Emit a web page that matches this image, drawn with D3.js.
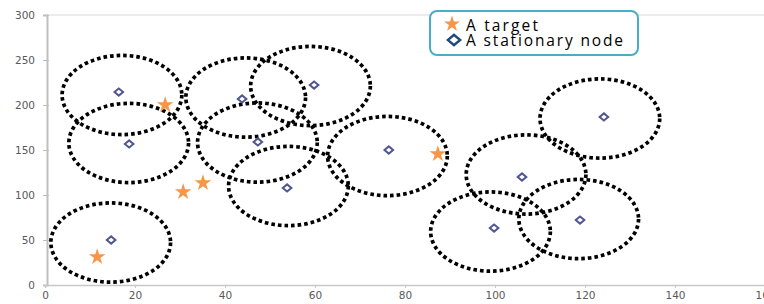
<!DOCTYPE html>
<html>
<head>
<meta charset="utf-8">
<script src="https://cdn.jsdelivr.net/npm/d3@7"></script>
<style>
  body { margin: 0; background: #fff; }
  svg { display: block; }
</style>
</head>
<body>
<div id="chart"></div>
<script>
// stationary nodes
var nodeX = [16.4, 18.7, 43.8, 47.3, 59.8, 53.8, 76.4, 106, 124.2, 99.8, 118.9, 14.7];
var nodeY = [214.4, 156.7, 206.7, 158.9, 222.2, 107.8, 150, 120, 186.7, 63.3, 72.2, 50];
// targets
var targetX = [26.7, 11.6, 30.7, 35.1, 87.3];
var targetY = [200, 31.1, 103.3, 113.3, 145.6];
// sensing range circles (centres)
var rangeX = [17.1, 18.6, 14.6, 44.6, 47.2, 59.0, 54.1, 76.1, 106.9, 123.3, 99, 118.6];
var rangeY = [211.1, 157.8, 47.2, 208.3, 158.3, 221.1, 110, 143.3, 122.8, 185, 59.4, 73.3];
var rangeRX = 13.3, rangeRY = 44;

var xTicks = [0, 20, 40, 60, 80, 100, 120, 140, 160];
var yTicks = [0, 50, 100, 150, 200, 250, 300];
var legendLabels = ["A target", "A stationary node"];

var W = 764, H = 304;

var svg = d3.select("#chart")
    .append("svg")
    .attr("width", W)
    .attr("height", H);

var x = d3.scaleLinear().domain([0, 160]).range([45, 765]);
var y = d3.scaleLinear().domain([0, 300]).range([285, 15]);

// top border line
svg.append("line")
    .attr("x1", x(0)).attr("x2", x(160))
    .attr("y1", y(300)).attr("y2", y(300))
    .style("stroke", "#d9d9d9")
    .style("stroke-width", 1);

// y axis
var yAxis = svg.append("g")
    .attr("transform", "translate(" + (x(0) + 2) + ",0)")
    .call(d3.axisLeft(y).tickValues(yTicks).tickSize(4).tickPadding(8));
yAxis.select(".domain").style("stroke", "#bfbfbf").style("stroke-width", 2);
yAxis.selectAll(".tick line").style("stroke", "#bfbfbf").attr("x2", 2).attr("x1", -4);
yAxis.selectAll("text")
    .style("font-family", "DejaVu Sans")
    .style("font-size", "10.5px")
    .style("fill", "#595959");

// x axis
var xAxis = svg.append("g")
    .attr("transform", "translate(0," + y(0) + ")")
    .call(d3.axisBottom(x).tickValues(xTicks).tickSize(3).tickPadding(4));
xAxis.select(".domain").style("stroke", "#c8c8c8").style("stroke-width", 1.5);
xAxis.selectAll(".tick line").style("stroke", "#c8c8c8");
xAxis.selectAll("text")
    .style("font-family", "DejaVu Sans")
    .style("font-size", "10.5px")
    .style("fill", "#595959");

// sensing ranges
svg.append("g")
    .selectAll("ellipse")
    .data(rangeX)
    .join("ellipse")
    .attr("cx", function(d) { return x(d); })
    .attr("cy", function(d, i) { return y(rangeY[i]); })
    .attr("rx", x(rangeRX) - x(0))
    .attr("ry", y(0) - y(rangeRY))
    .style("fill", "none")
    .style("stroke", "#000")
    .style("stroke-width", 3.7)
    .style("stroke-dasharray", "3.6,3");

// stationary nodes
var diamond = d3.symbol().type(d3.symbolSquare).size(26);
svg.append("g")
    .selectAll("path")
    .data(nodeX)
    .join("path")
    .attr("d", diamond)
    .attr("transform", function(d, i) {
        return "translate(" + x(d) + "," + y(nodeY[i]) + ") scale(1.2,1) rotate(45)";
    })
    .style("fill", "#fff")
    .style("stroke", "#50568f")
    .style("stroke-width", 1.8);

// targets
var star = d3.symbol().type(d3.symbolStar).size(85);
svg.append("g")
    .selectAll("path")
    .data(targetX)
    .join("path")
    .attr("d", star)
    .attr("transform", function(d, i) {
        return "translate(" + x(d) + "," + y(targetY[i]) + ")";
    })
    .style("fill", "#f79646");

// legend
var lg = svg.append("g");
lg.append("rect")
    .attr("x", 430).attr("y", 11)
    .attr("width", 208).attr("height", 44)
    .attr("rx", 7)
    .style("fill", "#fff")
    .style("stroke", "#4bacc6")
    .style("stroke-width", 2);
lg.append("path")
    .attr("d", d3.symbol().type(d3.symbolStar).size(80))
    .attr("transform", "translate(452,24)")
    .style("fill", "#f79646");
lg.append("path")
    .attr("d", d3.symbol().type(d3.symbolSquare).size(52))
    .attr("transform", "translate(454,40) scale(1.2,1) rotate(45)")
    .style("fill", "#fff")
    .style("stroke", "#1f497d")
    .style("stroke-width", 2.2);
lg.selectAll("text")
    .data(legendLabels)
    .join("text")
    .attr("x", 466)
    .attr("y", function(d, i) { return 31 + i * 15; })
    .attr("textLength", function(d, i) { return i === 0 ? 72 : 157; })
    .attr("lengthAdjust", "spacing")
    .text(function(d) { return d; })
    .style("font-family", "Open Sans")
    .style("font-size", "15.5px")
    .style("fill", "#000");
</script>
</body>
</html>
